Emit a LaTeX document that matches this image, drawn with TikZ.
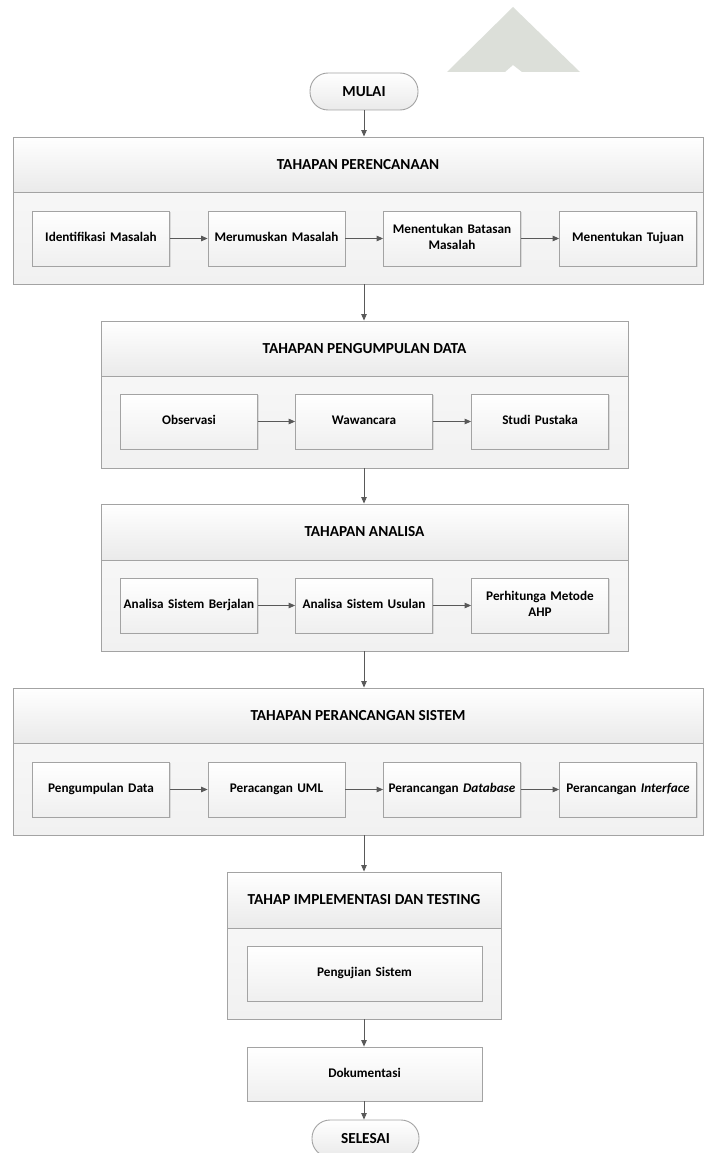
\documentclass[tikz,border=0pt]{standalone}
\usepackage{fontspec}
\setmainfont{Carlito}
\usetikzlibrary{arrows.meta,shadows}

\definecolor{edgegray}{HTML}{A3A3A3}
\definecolor{linegray}{HTML}{595959}
\definecolor{bodygray}{HTML}{F1F1F1}
\definecolor{headlow}{HTML}{EAEAEA}
\definecolor{boxlow}{HTML}{EFEFEF}
\definecolor{markgray}{HTML}{DCDFD9}
\definecolor{shadowgray}{HTML}{D4D4D4}

\tikzset{
  stagehead/.style={draw=edgegray, line width=0.9pt, top color=white, bottom color=headlow,
    inner sep=0pt, font=\fontsize{15.3}{18}\selectfont\bfseries},
  stagebody/.style={draw=edgegray, line width=0.9pt, top color=bodygray!60!white, bottom color=bodygray,
    inner sep=0pt},
  taskbox/.style={draw=edgegray, line width=0.8pt, top color=white, bottom color=boxlow,
    minimum width=137pt, minimum height=55pt, inner sep=2pt, align=center,
    text width=132pt, font=\fontsize{13.2}{15.5}\selectfont\bfseries,
    execute at begin node=\strut, execute at end node=\strut,
    drop shadow={shadow xshift=1.2pt, shadow yshift=-1.2pt, fill=shadowgray, opacity=0.8}},
  terminal/.style={draw=edgegray, line width=0.9pt, rounded corners=18pt, top color=white, bottom color=headlow,
    minimum width=108pt, minimum height=37pt, inner sep=0pt, font=\fontsize{15.3}{18}\selectfont\bfseries},
  flow/.style={draw=linegray, line width=0.9pt, -{Triangle[length=6.5pt,width=5.5pt]}},
}

\begin{document}
\begin{tikzpicture}[x=1pt, y=-1pt]
  \useasboundingbox (0,0) rectangle (705,1153);
  \clip (0,0) rectangle (705,1153);

  % faint emblem in the upper right
  \fill[markgray] (447,72) -- (513,7) -- (580,72) -- (522,72) -- (513,65) -- (505,72) -- cycle;

  % start
  \node[terminal] (mulai) at (364,91.5) {MULAI};

  % stage 1
  \node[stagehead, minimum width=690pt, minimum height=55pt] (h1) at (358,164.5) {TAHAPAN PERENCANAAN};
  \node[stagebody, minimum width=690pt, minimum height=92pt] (b1) at (358,238) {};
  \node[taskbox] (p1) at (101,238.5) {Identifikasi Masalah};
  \node[taskbox] (p2) at (276.5,238.5) {Merumuskan Masalah};
  \node[taskbox] (p3) at (452,238.5) {Menentukan Batasan\\Masalah};
  \node[taskbox] (p4) at (628,238.5) {Menentukan Tujuan};

  % stage 2
  \node[stagehead, minimum width=527pt, minimum height=55pt] (h2) at (364.5,348.5) {TAHAPAN PENGUMPULAN DATA};
  \node[stagebody, minimum width=527pt, minimum height=92pt] (b2) at (364.5,422) {};
  \node[taskbox] (d1) at (189,421.5) {Observasi};
  \node[taskbox] (d2) at (364,421.5) {Wawancara};
  \node[taskbox] (d3) at (540,421.5) {Studi Pustaka};

  % stage 3
  \node[stagehead, minimum width=527pt, minimum height=56pt] (h3) at (364.5,532) {TAHAPAN ANALISA};
  \node[stagebody, minimum width=527pt, minimum height=91pt] (b3) at (364.5,605.5) {};
  \node[taskbox] (a1) at (189,605.5) {Analisa Sistem Berjalan};
  \node[taskbox] (a2) at (364,605.5) {Analisa Sistem Usulan};
  \node[taskbox] (a3) at (540,605.5) {Perhitunga Metode\\AHP};

  % stage 4
  \node[stagehead, minimum width=690pt, minimum height=55pt] (h4) at (358,715.5) {TAHAPAN PERANCANGAN SISTEM};
  \node[stagebody, minimum width=690pt, minimum height=92pt] (b4) at (358,789) {};
  \node[taskbox] (r1) at (101,789.5) {Pengumpulan Data};
  \node[taskbox] (r2) at (276.5,789.5) {Peracangan UML};
  \node[taskbox] (r3) at (452,789.5) {Perancangan \textit{Database}};
  \node[taskbox] (r4) at (628,789.5) {Perancangan \textit{Interface}};

  % stage 5
  \node[stagehead, minimum width=274pt, minimum height=56pt] (h5) at (364,900) {TAHAP IMPLEMENTASI DAN TESTING};
  \node[stagebody, minimum width=274pt, minimum height=91pt] (b5) at (364,973.5) {};
  \node[taskbox, minimum width=235pt, text width=225pt] (t1) at (364.5,973.5) {Pengujian Sistem};

  % closing steps
  \node[taskbox, minimum width=235pt, minimum height=54pt, text width=225pt] (doc) at (364.5,1074) {Dokumentasi};
  \node[terminal, minimum width=107pt] (selesai) at (365.5,1138.5) {SELESAI};

  % connectors inside the stages
  \draw[flow] (p1) -- (p2);
  \draw[flow] (p2) -- (p3);
  \draw[flow] (p3) -- (p4);
  \draw[flow] (d1) -- (d2);
  \draw[flow] (d2) -- (d3);
  \draw[flow] (a1) -- (a2);
  \draw[flow] (a2) -- (a3);
  \draw[flow] (r1) -- (r2);
  \draw[flow] (r2) -- (r3);
  \draw[flow] (r3) -- (r4);

  % connectors between the stages
  \draw[flow] (mulai.south) -- (mulai.south |- h1.north);
  \draw[flow] (b1.south -| mulai.south) -- (h2.north -| mulai.south);
  \draw[flow] (b2.south -| mulai.south) -- (h3.north -| mulai.south);
  \draw[flow] (b3.south -| mulai.south) -- (h4.north -| mulai.south);
  \draw[flow] (b4.south -| mulai.south) -- (h5.north -| mulai.south);
  \draw[flow] (b5.south -| mulai.south) -- (doc.north -| mulai.south);
  \draw[flow] (doc.south -| mulai.south) -- (selesai.north -| mulai.south);
\end{tikzpicture}
\end{document}
